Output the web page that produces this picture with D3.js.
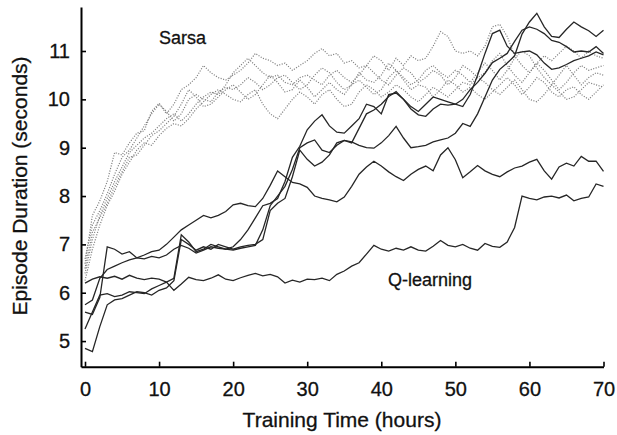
<!DOCTYPE html>
<html>
<head>
  <meta charset="utf-8" />
  <script src="https://d3js.org/d3.v7.min.js"></script>
  <style>
    body{margin:0;background:#fff;}
    text{font-family:"Liberation Sans",Arial,Helvetica,sans-serif;fill:#111;stroke:#111;stroke-width:0.3px;}
  </style>
</head>
<body>
<script>
// sample times (hours)
var hours = d3.range(0, 71);
var xTicks = [0,10,20,30,40,50,60,70];
var yTicks = [5,6,7,8,9,10,11];

// Sarsa runs (dotted)
var sarsa1 = [6.6,7.6,7.9,8.3,8.9,8.85,9.1,9.3,9.35,9.75,9.92,9.7,9.9,10.2,10.3,10.45,10.7,10.55,10.45,10.4,10.5,10.6,10.75,10.95,10.85,10.8,10.7,10.75,10.6,10.7,10.8,10.95,11.05,10.9,10.95,10.75,10.8,10.65,10.7,10.9,10.8,10.6,10.85,10.7,10.9,10.8,10.85,11.1,11.4,11.3,11.0,10.95,11.0,10.9,11.1,11.5,11.55,11.3,10.9,10.7,10.55,10.75,10.9,10.8,10.95,11.1,11.0,10.85,11.0,10.9,10.85];
var sarsa2 = [6.4,7.1,7.6,7.95,8.3,8.6,8.9,9.05,9.2,9.3,9.45,9.6,9.7,9.55,9.7,9.9,10.05,10.15,10.1,10.3,10.55,10.7,10.85,10.7,10.55,10.45,10.5,10.35,10.3,10.45,10.5,10.4,10.3,10.5,10.6,10.45,10.35,10.5,10.7,10.55,10.4,10.3,10.5,10.65,10.55,10.35,10.45,10.6,10.5,10.3,10.45,10.7,10.6,10.45,10.55,10.8,10.95,10.7,10.5,10.35,10.55,10.75,10.6,10.4,10.2,10.35,10.55,10.7,10.6,10.65,10.7];
var sarsa3 = [6.25,6.9,7.4,7.8,8.1,8.45,8.7,8.95,9.1,9.05,9.25,9.4,9.5,9.45,9.6,9.8,9.95,10.1,10.2,10.1,10.0,9.95,10.1,10.2,9.9,9.7,9.6,9.8,10.0,10.15,10.05,9.9,10.1,10.2,10.0,9.85,9.9,10.15,10.3,10.2,10.05,10.15,10.3,10.2,10.05,9.95,10.1,10.25,10.15,10.05,10.2,10.35,10.3,10.45,10.35,10.2,10.1,10.25,10.4,10.2,10.0,9.95,10.1,10.3,10.15,10.0,10.05,10.2,10.35,10.3,10.25];
var sarsa4 = [6.7,7.4,7.7,8.05,8.45,8.8,8.95,9.2,9.45,9.7,9.9,9.75,9.55,9.7,10.0,10.1,10.0,9.95,10.15,10.25,10.2,10.3,10.45,10.35,10.2,10.3,10.45,10.5,10.35,10.2,10.3,10.5,10.65,10.55,10.35,10.2,10.3,10.4,10.25,10.1,10.2,10.45,10.6,10.45,10.3,10.4,10.6,10.7,10.55,10.45,10.6,10.5,10.35,10.55,10.75,10.6,10.4,10.6,10.85,11.0,10.9,10.65,10.45,10.3,10.5,10.7,10.5,10.3,10.45,10.55,10.5];
var sarsa5 = [6.5,7.25,7.55,7.85,8.2,8.5,8.8,8.85,9.05,9.25,9.35,9.5,9.65,9.9,10.2,10.05,9.85,9.9,10.05,10.2,10.3,10.15,10.0,10.1,10.3,10.5,10.35,10.15,10.2,10.4,10.25,10.05,10.2,10.35,10.2,10.1,10.3,10.55,10.4,10.35,10.5,10.75,10.6,10.4,10.2,10.3,10.25,10.05,10.2,10.4,10.3,10.15,10.25,10.1,10.0,10.15,10.3,10.45,10.3,10.1,10.25,10.45,10.35,10.15,10.05,10.2,10.26,10.1,10.0,10.15,10.3];

// Q-learning runs (solid)
var qlearn1 = [6.2,6.28,6.33,6.3,6.34,6.28,6.36,6.3,6.27,6.3,6.28,6.22,6.05,6.18,6.32,6.27,6.25,6.3,6.37,6.28,6.25,6.31,6.36,6.4,6.35,6.38,6.33,6.2,6.26,6.22,6.28,6.27,6.3,6.25,6.38,6.45,6.55,6.62,6.8,6.98,6.9,6.86,6.92,6.88,6.95,6.88,6.86,6.96,7.08,6.98,6.95,7.0,6.92,6.88,7.02,6.96,6.94,7.05,7.35,8.0,7.95,7.92,7.98,8.0,7.96,8.02,7.9,7.95,7.98,8.25,8.2];
var qlearn2 = [5.75,5.85,6.3,6.48,6.55,6.62,6.68,6.72,6.78,6.85,6.88,7.0,7.15,7.3,7.4,7.5,7.6,7.55,7.6,7.68,7.82,7.85,7.8,7.78,7.95,8.22,8.52,8.4,8.28,8.25,8.18,8.0,7.95,7.92,7.88,7.98,8.2,8.45,8.6,8.72,8.62,8.5,8.4,8.32,8.45,8.55,8.62,8.52,8.85,9.0,8.75,8.38,8.5,8.63,8.52,8.45,8.4,8.5,8.58,8.62,8.7,8.76,8.52,8.35,8.6,8.68,8.62,8.82,8.72,8.72,8.51];
var qlearn3 = [5.25,5.6,5.95,5.98,5.92,5.95,6.02,6.0,5.98,6.08,6.15,6.22,6.3,7.2,7.05,6.85,6.9,7.0,6.95,6.9,6.95,7.1,7.3,7.55,7.8,7.85,7.95,8.3,8.8,9.03,9.37,9.55,9.68,9.45,9.32,9.3,9.45,9.6,9.9,9.85,9.7,10.1,10.13,10.0,9.85,9.75,9.9,10.05,10.0,9.95,9.9,9.85,10.1,10.5,10.95,11.36,11.43,11.1,10.95,10.98,11.0,10.92,10.75,10.62,10.65,10.72,10.8,10.85,10.9,10.98,10.92];
var qlearn4 = [5.6,5.55,5.9,6.95,6.9,6.8,6.85,6.72,6.7,6.75,6.72,6.78,6.9,6.98,6.92,6.82,6.88,6.95,6.92,6.9,6.88,6.92,6.95,6.98,7.3,7.8,8.0,8.2,8.55,9.0,9.1,9.16,8.95,8.9,9.05,9.15,9.1,9.4,9.7,9.78,9.9,10.06,10.16,10.0,9.8,9.68,9.65,9.8,9.9,9.88,9.9,10.0,10.2,10.35,10.54,10.76,10.85,10.95,11.2,11.43,11.5,11.45,11.36,11.22,11.18,11.09,10.98,11.0,10.98,11.09,10.95];
var qlearn5 = [4.85,4.78,5.3,5.75,5.85,5.88,5.95,6.02,6.0,5.95,6.05,6.1,6.25,7.1,7.0,6.88,6.95,6.9,7.0,6.95,6.9,6.95,6.98,7.0,7.1,7.7,7.85,7.95,8.4,8.95,8.76,8.62,8.7,8.85,9.1,9.15,9.12,9.05,9.0,8.99,9.1,9.25,9.44,9.2,9.0,9.02,9.05,9.12,9.16,9.2,9.3,9.5,9.44,9.7,10.05,10.4,10.62,10.75,10.9,11.35,11.6,11.78,11.5,11.3,11.28,11.45,11.6,11.5,11.42,11.3,11.43];

var sarsaRuns = [sarsa1, sarsa2, sarsa3, sarsa4, sarsa5];
var qRuns = [qlearn1, qlearn2, qlearn3, qlearn4, qlearn5];

var width = 617, height = 435;
var svg = d3.select('body').append('svg')
  .attr('width', width).attr('height', height);

var x = d3.scaleLinear().domain([-0.54, 70]).range([81, 603.5]);
var y = d3.scaleLinear().domain([4.47, 11.91]).range([366.7, 7]);

var line = d3.line()
  .x(function(d, i){ return x(hours[i]); })
  .y(function(d){ return y(d); });

// sarsa first so the solid lines sit on top
svg.selectAll('.sarsa').data(sarsaRuns).enter().append('path')
  .attr('class', 'sarsa')
  .attr('d', line)
  .attr('fill', 'none')
  .attr('stroke', '#808080')
  .attr('stroke-width', 1.2)
  .attr('stroke-dasharray', '1.1,1.5');

svg.selectAll('.qrun').data(qRuns).enter().append('path')
  .attr('class', 'qrun')
  .attr('d', line)
  .attr('fill', 'none')
  .attr('stroke', '#262626')
  .attr('stroke-width', 1.3);

// axes: ticks point inward
var xAxis = d3.axisBottom(x).tickValues(xTicks).tickSize(-5).tickSizeOuter(0).tickPadding(15);
var yAxis = d3.axisLeft(y).tickValues(yTicks).tickSize(-5).tickSizeOuter(0).tickPadding(11);

var gx = svg.append('g').attr('transform', 'translate(0,366.7)').call(xAxis);
var gy = svg.append('g').attr('transform', 'translate(81,0)').call(yAxis);

[gx, gy].forEach(function(g){
  g.select('.domain').attr('stroke', '#000').attr('stroke-width', 2);
  g.selectAll('.tick line').attr('stroke', '#000').attr('stroke-width', 1.6);
  g.selectAll('.tick text')
    .style('font-family', '"Liberation Sans",Arial,sans-serif')
    .style('font-size', '20px')
    .attr('fill', '#111');
});

// axis titles
svg.append('text')
  .attr('x', 342).attr('y', 427)
  .attr('text-anchor', 'middle')
  .style('font-size', '21px')
  .text('Training Time (hours)');

svg.append('text')
  .attr('transform', 'translate(27,186) rotate(-90)')
  .attr('text-anchor', 'middle')
  .style('font-size', '21px')
  .text('Episode Duration (seconds)');

// series labels
svg.append('text')
  .attr('x', 159).attr('y', 43.5)
  .style('font-size', '18px')
  .text('Sarsa');

svg.append('text')
  .attr('x', 388).attr('y', 286)
  .style('font-size', '18px')
  .text('Q-learning');
</script>
</body>
</html>
